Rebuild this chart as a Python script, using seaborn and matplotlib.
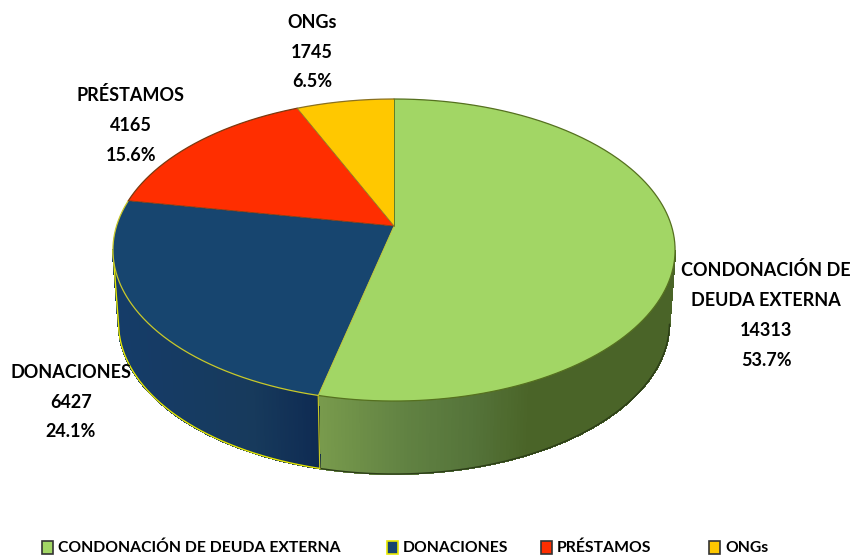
import numpy as np
import matplotlib
matplotlib.use("Agg")
import matplotlib.pyplot as plt
import seaborn as sns
from matplotlib.collections import PolyCollection
from matplotlib.colors import to_rgb
from matplotlib.patches import Rectangle

categories = ["CONDONACIÓN DE DEUDA EXTERNA", "DONACIONES", "PRÉSTAMOS", "ONGs"]
values = [14313, 6427, 4165, 1745]
label_names = ["CONDONACIÓN DE\nDEUDA EXTERNA", "DONACIONES", "PRÉSTAMOS", "ONGs"]

sns.set_style("white")
plt.rcParams["font.family"] = ["Lato", "DejaVu Sans"]
plt.rcParams["font.weight"] = "bold"
palette = sns.color_palette(["#a2d665", "#17456f", "#ff2e00", "#ffc800"])

# pie geometry in pixels, apex of the pie and perspective
CX, CY = 394, 226
BX, BY, K = 277.5, 147.2, 0.159
DEPTH = 73
BOTTOM_SCALE = 0.98


def project(theta, scale=1.0, drop=0):
    # theta is clockwise from the top of the pie
    x, y = np.sin(theta), np.cos(theta)
    w = 1 + K * y
    return CX + scale * BX * x / w, CY - BY * y / w + drop


def mix(stops, x):
    xs = [s[0] for s in stops]
    rgb = np.array([to_rgb(s[1]) for s in stops])
    return tuple(np.interp(x, xs, rgb[:, i]) for i in range(3))


side_stops = [
    [(320, "#789a4c"), (400, "#628343"), (470, "#55743a"), (530, "#4a6428"), (680, "#4a6428")],
    [(110, "#153c69"), (250, "#173a5c"), (320, "#0e2a52")],
    [(0, "#aa2200"), (853, "#aa2200")],
    [(0, "#aa8500"), (853, "#aa8500")],
]
top_edges = ["#55701f", "#c9c92a", "#7a3a10", "#8a7020"]
side_edges = ["#2c3d18", "#e8e800", "#7a1a00", "#7a6000"]

fig = plt.figure(figsize=(8.53, 5.55), dpi=100)
ax = fig.add_axes([0, 0, 1, 1])
ax.set_xlim(0, 853)
ax.set_ylim(555, 0)
ax.axis("off")

fractions = np.array(values) / sum(values)
bounds = np.concatenate([[0], np.cumsum(fractions)]) * 2 * np.pi

# side wall, only the part below the silhouette points shows
for i in range(len(values)):
    t = np.linspace(bounds[i], bounds[i + 1], 300)
    t = t[np.cos(t) < -K]
    if len(t) < 2:
        continue
    x0, y0 = project(t)
    x1, y1 = project(t, BOTTOM_SCALE, DEPTH)
    quads, cols = [], []
    for j in range(len(t) - 1):
        quads.append([(x0[j], y0[j]), (x0[j + 1], y0[j + 1]), (x1[j + 1], y1[j + 1]), (x1[j], y1[j])])
        cols.append(mix(side_stops[i], (x0[j] + x0[j + 1]) / 2))
    ax.add_collection(PolyCollection(quads, facecolors=cols, edgecolors=cols, linewidths=0.8,
                                     antialiaseds=False, zorder=2))
    # outline runs round the bottom rim and up the silhouette
    if i == 0:
        ax.plot(np.r_[x1, x0[-1:]], np.r_[y1, y0[-1:]], color=side_edges[i], lw=1.0, zorder=3)
    else:
        ax.plot(np.r_[x0[-1:], x1[::-1]], np.r_[y0[-1:], y1[::-1]], color=side_edges[i], lw=1.0, zorder=3)

# seam between the two visible wall pieces
sx0, sy0 = project(bounds[1])
sx1, sy1 = project(bounds[1], BOTTOM_SCALE, DEPTH)
ax.plot([sx0, sx1], [sy0, sy1], color="#c9c92a", lw=0.8, zorder=3)

# top of the pie
for i in range(len(values)):
    t = np.linspace(bounds[i], bounds[i + 1], 240)
    x, y = project(t)
    ax.fill(np.r_[CX, x], np.r_[CY, y], color=palette[i], lw=0, zorder=4)
for i in range(len(values)):
    t = np.linspace(bounds[i], bounds[i + 1], 240)
    x, y = project(t)
    ax.plot(x, y, color=top_edges[i], lw=0.9, zorder=5)
    ax.plot([CX, x[0]], [CY, y[0]], color=top_edges[i], lw=0.6, zorder=5)

# data labels
label_pos = [(766, 315), (71, 402), (131, 125), (312, 52)]
for name, val, frac, (lx, ly) in zip(label_names, values, fractions, label_pos):
    ax.text(lx, ly, f"{name}\n{val}\n{frac * 100:.1f}%", ha="center", va="center",
            fontsize=13, linespacing=1.92, color="black", zorder=6)

# legend row
swatch_x = [42, 387, 541, 709]
swatch_edges = ["#333333", "#e8e800", "#333333", "#333333"]
for i, name in enumerate(categories):
    ax.add_patch(Rectangle((swatch_x[i], 541), 11, 13, facecolor=palette[i],
                           edgecolor=swatch_edges[i], lw=1.2, zorder=6))
    ax.text(swatch_x[i] + 16, 547.5, name, ha="left", va="center", fontsize=11.3, color="black")

fig.savefig("out.png", dpi=100, facecolor="white")
